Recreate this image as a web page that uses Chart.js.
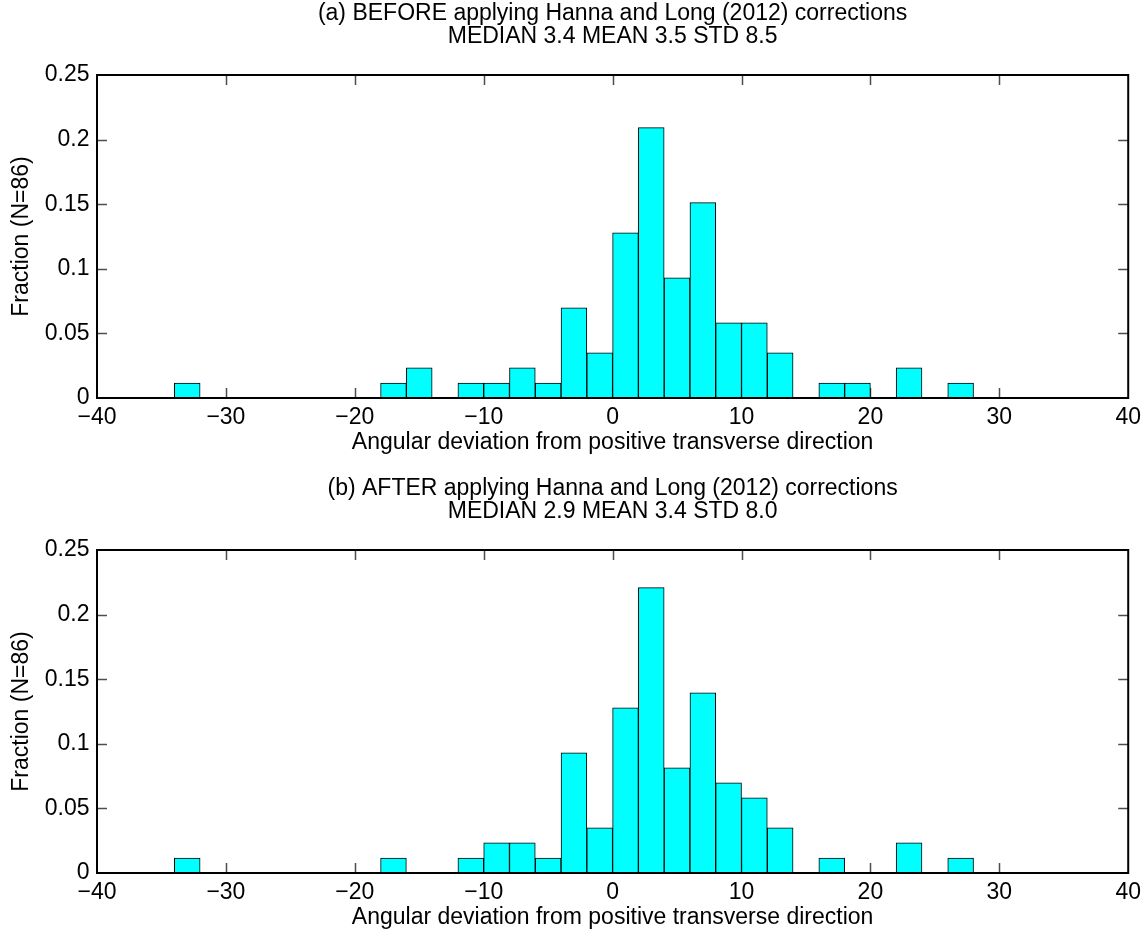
<!DOCTYPE html>
<html>
<head>
<meta charset="utf-8">
<title>Angular deviation histograms</title>
<script src="https://cdn.jsdelivr.net/npm/chart.js@4.4.1/dist/chart.umd.min.js"></script>
<style>
  html, body { margin: 0; padding: 0; background: #fff; }
  #wrap { position: relative; width: 1147px; height: 936px; }
  #wrap canvas { position: absolute; left: 0; }
  #chart-a { top: 0; }
  #chart-b { top: 475px; }
</style>
</head>
<body>
<div id="wrap">
  <canvas id="chart-a" width="1147" height="461"></canvas>
  <canvas id="chart-b" width="1147" height="461"></canvas>
</div>
<script>
/* Two stacked histograms, MATLAB-ish look */

// ── Data ──────────────────────────────────────────────────────────────
var binCenters = [-33, -31, -29, -27, -25, -23, -21, -19, -17, -15, -13,
                  -11, -9, -7, -5, -3, -1, 1, 3, 5, 7, 9, 11, 13, 15, 17,
                  19, 21, 23, 25, 27];

var fractionBefore = [0.0116, 0, 0, 0, 0, 0, 0, 0, 0.0116, 0.0233, 0,
                      0.0116, 0.0116, 0.0233, 0.0116, 0.0698, 0.0349,
                      0.1279, 0.2093, 0.0930, 0.1512, 0.0581, 0.0581,
                      0.0349, 0, 0.0116, 0.0116, 0, 0.0233, 0, 0.0116];

var fractionAfter = [0.0116, 0, 0, 0, 0, 0, 0, 0, 0.0116, 0, 0,
                     0.0116, 0.0233, 0.0233, 0.0116, 0.0930, 0.0349,
                     0.1279, 0.2209, 0.0814, 0.1395, 0.0698, 0.0581,
                     0.0349, 0, 0.0116, 0, 0, 0.0233, 0, 0.0116];

var xTicks = [-40, -30, -20, -10, 0, 10, 20, 30, 40];
var yTicks = [0, 0.05, 0.1, 0.15, 0.2, 0.25];

var titleBefore = ["(a) BEFORE applying Hanna and Long (2012) corrections",
                   "MEDIAN 3.4 MEAN 3.5 STD 8.5"];
var titleAfter = ["(b) AFTER applying Hanna and Long (2012) corrections",
                  "MEDIAN 2.9 MEAN 3.4 STD 8.0"];
var xLabel = "Angular deviation from positive transverse direction";
var yLabel = "Fraction (N=86)";

(function () {
  "use strict";

  var FONT = "'Liberation Sans', Arial, Helvetica, sans-serif";
  var FS = 23;
  var TICK = 10;

  // ── Inward ticks on all four sides + box ─────────────────────────────
  var boxPlugin = {
    id: "matlabBox",
    beforeDatasetsDraw: function (chart) {
      var ctx = chart.ctx, a = chart.chartArea;
      var xs = chart.scales.x, ys = chart.scales.y;
      ctx.save();
      ctx.strokeStyle = "#4d4d4d";
      ctx.lineWidth = 1.5;
      ctx.beginPath();
      xTicks.forEach(function (v) {
        if (v === xs.min || v === xs.max) return;
        var px = Math.round(xs.getPixelForValue(v)) + 0.5;
        ctx.moveTo(px, a.bottom); ctx.lineTo(px, a.bottom - TICK);
        ctx.moveTo(px, a.top); ctx.lineTo(px, a.top + TICK);
      });
      yTicks.forEach(function (v) {
        if (v === ys.min || v === ys.max) return;
        var py = Math.round(ys.getPixelForValue(v)) + 0.5;
        ctx.moveTo(a.left, py); ctx.lineTo(a.left + TICK, py);
        ctx.moveTo(a.right, py); ctx.lineTo(a.right - TICK, py);
      });
      ctx.stroke();
      ctx.restore();
    },
    afterDatasetsDraw: function (chart) {
      var ctx = chart.ctx, a = chart.chartArea;
      ctx.save();
      ctx.strokeStyle = "#000";
      ctx.lineWidth = 2;
      ctx.strokeRect(a.left, a.top, a.right - a.left, a.bottom - a.top);
      ctx.restore();
    }
  };

  function minusSign(v) {
    return String(v).replace("-", "\u2212");
  }

  function makeConfig(titleLines, values) {
    var points = binCenters.map(function (c, i) {
      return { x: c, y: values[i] };
    });

    return {
      type: "bar",
      data: {
        datasets: [{
          data: points,
          backgroundColor: "#00ffff",
          borderColor: "#000000",
          borderWidth: 1,
          barPercentage: 1,
          categoryPercentage: 1
        }]
      },
      options: {
        responsive: false,
        animation: false,
        layout: { padding: { left: 0, right: 14, top: 0, bottom: 0 } },
        plugins: {
          legend: { display: false },
          tooltip: { enabled: false },
          title: { display: false }
        },
        scales: {
          x: {
            type: "linear",
            position: "bottom",
            min: -40,
            max: 40,
            offset: false,
            grid: { display: false, drawTicks: false, offset: false },
            border: { display: false },
            afterBuildTicks: function (scale) {
              scale.ticks = xTicks.map(function (v) { return { value: v }; });
            },
            afterFit: function (scale) { scale.height = 63; },
            ticks: {
              padding: 6,
              maxRotation: 0,
              autoSkip: false,
              color: "#000",
              font: { family: FONT, size: FS },
              callback: function (v) { return minusSign(v); }
            },
            title: {
              display: true,
              text: xLabel,
              color: "#000",
              font: { family: FONT, size: FS },
              padding: { top: 0, bottom: 5 }
            }
          },
          top: {
            type: "linear",
            position: "top",
            min: -40,
            max: 40,
            grid: { display: false, drawTicks: false },
            border: { display: false },
            ticks: { display: false },
            afterFit: function (scale) { scale.height = 75; },
            title: {
              display: true,
              text: titleLines,
              color: "#000",
              font: { family: FONT, size: FS, lineHeight: 1 },
              padding: { top: 2.5, bottom: 0 }
            }
          },
          y: {
            type: "linear",
            min: 0,
            max: 0.25,
            grid: { display: false, drawTicks: false },
            border: { display: false },
            afterBuildTicks: function (scale) {
              scale.ticks = yTicks.map(function (v) { return { value: v }; });
            },
            afterFit: function (scale) { scale.width = 97; },
            ticks: {
              padding: 7.5,
              autoSkip: false,
              color: "#000",
              font: { family: FONT, size: FS },
              callback: function (v) { return String(v); }
            },
            title: {
              display: true,
              text: yLabel,
              color: "#000",
              font: { family: FONT, size: FS },
              padding: { top: 8, bottom: 0 }
            }
          }
        }
      },
      plugins: [boxPlugin]
    };
  }

  // ── Boot ─────────────────────────────────────────────────────────────
  new Chart(document.getElementById("chart-a").getContext("2d"),
            makeConfig(titleBefore, fractionBefore));
  new Chart(document.getElementById("chart-b").getContext("2d"),
            makeConfig(titleAfter, fractionAfter));
})();
</script>
</body>
</html>
